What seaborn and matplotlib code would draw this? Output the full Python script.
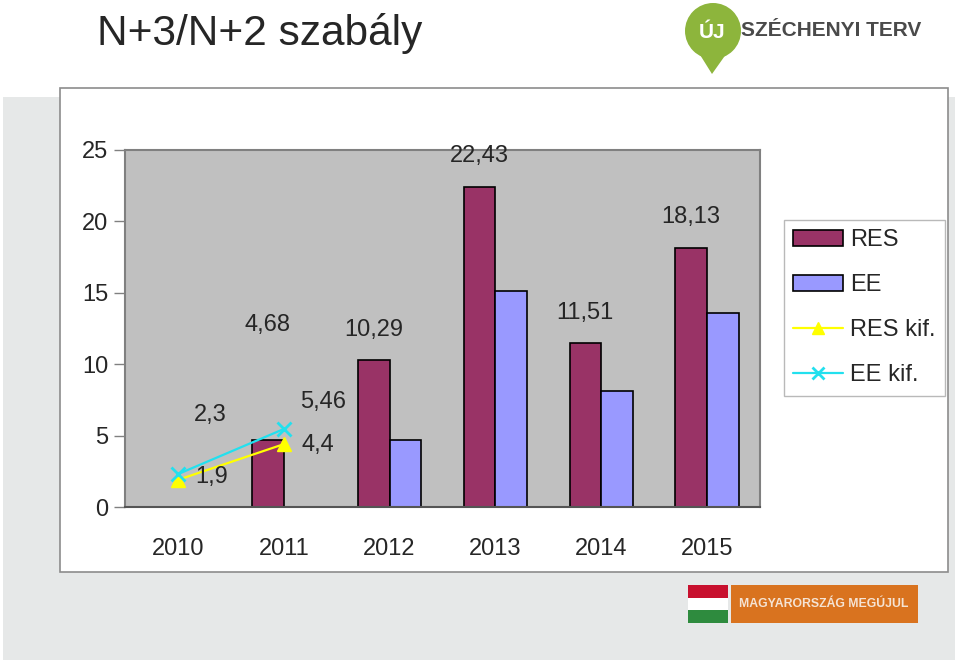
import matplotlib
matplotlib.use("Agg")
import matplotlib.pyplot as plt
import matplotlib.patches as mpatches
from matplotlib.lines import Line2D
import seaborn as sns
import pandas as pd
import numpy as np

years = ["2010", "2011", "2012", "2013", "2014", "2015"]
res_values = [np.nan, 4.68, 10.29, 22.43, 11.51, 18.13]
ee_values = [np.nan, np.nan, 4.7, 15.1, 8.1, 13.6]
kif_years = ["2010", "2011"]
res_kif = [1.9, 4.4]
ee_kif = [2.3, 5.46]

res_labels = ["", "4,68", "10,29", "22,43", "11,51", "18,13"]
res_label_lift = [0, 115, 30, 31, 30, 31]  # px, as in the original
res_kif_labels = ["1,9", "4,4"]
res_kif_offsets = [(34, 3), (34, -1)]
ee_kif_labels = ["2,3", "5,46"]
ee_kif_offsets = [(32, 59), (39, 27)]

RES_COLOR = "#993366"
EE_COLOR = "#9999FF"
RES_KIF_COLOR = "#FFFF00"
EE_KIF_COLOR = "#22E0EE"
FS = 17

sns.set_theme(style="white")
plt.rcParams["font.family"] = ["Liberation Sans", "DejaVu Sans"]

rows = []
for y, r, e in zip(years, res_values, ee_values):
    if not np.isnan(r):
        rows.append({"year": y, "series": "RES", "value": r})
    if not np.isnan(e):
        rows.append({"year": y, "series": "EE", "value": e})
df = pd.DataFrame(rows)

fig = plt.figure(figsize=(9.6, 6.64), dpi=100)
fig.patch.set_facecolor("white")

# slide background and chart frame
fig.patches.append(mpatches.Rectangle((3 / 960, 4 / 664), 952 / 960, 563 / 664,
                                      transform=fig.transFigure, facecolor="#E6E8E8",
                                      edgecolor="none", zorder=0))
fig.patches.append(mpatches.Rectangle((60 / 960, 1 - 572 / 664), 888 / 960, 484 / 664,
                                      transform=fig.transFigure, facecolor="white",
                                      edgecolor="#8C8C8C", linewidth=1.2, zorder=1))

fig.text(97 / 960, 1 - 33 / 664, "N+3/N+2 szabály", fontsize=30.5, va="center", ha="left")

# top-right logo
fig.patches.append(mpatches.Polygon([(697 / 960, 1 - 50 / 664), (729 / 960, 1 - 50 / 664),
                                     (712 / 960, 1 - 74 / 664)], closed=True,
                                    transform=fig.transFigure, facecolor="#8DB53C",
                                    edgecolor="none", zorder=2))
fig.patches.append(mpatches.Ellipse((713 / 960, 1 - 31 / 664), 56 / 960, 56 / 664,
                                    transform=fig.transFigure, facecolor="#8DB53C",
                                    edgecolor="none", zorder=2))
fig.text(712 / 960, 1 - 32 / 664, "ÚJ", color="white", fontsize=15, fontweight="bold",
         ha="center", va="center", zorder=3)
fig.text(741 / 960, 1 - 31 / 664, "SZÉCHENYI TERV", color="#4A4A4A", fontsize=15,
         fontweight="bold", ha="left", va="center", zorder=3)

# bottom logo
flag = ["#C8102E", "white", "#2E8B3E"]
for i, c in enumerate(flag):
    fig.patches.append(mpatches.Rectangle((688 / 960, 1 - (585 + 12.5 * (i + 1)) / 664),
                                          40 / 960, 12.5 / 664, transform=fig.transFigure,
                                          facecolor=c, edgecolor="none", zorder=2))
fig.patches.append(mpatches.Rectangle((731 / 960, 1 - 623 / 664), 187 / 960, 38 / 664,
                                      transform=fig.transFigure, facecolor="#D9731F",
                                      edgecolor="none", zorder=2))
fig.text(824 / 960, 1 - 604 / 664, "MAGYARORSZÁG MEGÚJUL", color="#F5E3D3", fontsize=8.8,
         fontweight="bold", ha="center", va="center", zorder=3)

ax = fig.add_axes([125 / 960, 1 - 507 / 664, 635 / 960, 357 / 664])
ax.set_zorder(3)
ax.set_facecolor("#C0C0C0")

sns.barplot(data=df, x="year", y="value", hue="series", order=years,
            hue_order=["RES", "EE"], palette={"RES": RES_COLOR, "EE": EE_COLOR},
            saturation=1, width=0.6, edgecolor="black", linewidth=1.2, ax=ax,
            legend=False, zorder=2)

kif_x = [years.index(y) for y in kif_years]
ax.plot(kif_x, res_kif, color=RES_KIF_COLOR, lw=1.6, marker="^", ms=10, zorder=4)
ax.plot(kif_x, ee_kif, color=EE_KIF_COLOR, lw=1.6, marker="x", ms=10, mew=2, zorder=5)

for i, (v, lab, lift) in enumerate(zip(res_values, res_labels, res_label_lift)):
    if lab:
        ax.annotate(lab, (i - 0.15, v), xytext=(0, lift), textcoords="offset pixels",
                    ha="center", va="center", fontsize=FS, zorder=6)
for x, v, lab, off in zip(kif_x, res_kif, res_kif_labels, res_kif_offsets):
    ax.annotate(lab, (x, v), xytext=off, textcoords="offset pixels",
                ha="center", va="center", fontsize=FS, zorder=6)
for x, v, lab, off in zip(kif_x, ee_kif, ee_kif_labels, ee_kif_offsets):
    ax.annotate(lab, (x, v), xytext=off, textcoords="offset pixels",
                ha="center", va="center", fontsize=FS, zorder=6)

ax.set_xlim(-0.5, len(years) - 0.5)
ax.set_ylim(0, 25)
ax.set_yticks([0, 5, 10, 15, 20, 25])
ax.set_xlabel("")
ax.set_ylabel("")
ax.set_xticks(range(len(years)))
ax.set_xticklabels(years)
ax.set_xticks(np.arange(-0.5, len(years), 1), minor=True)
ax.tick_params(axis="x", which="major", length=0, pad=22, labelsize=FS)
ax.tick_params(axis="x", which="minor", length=8, direction="out", color="#808080", width=1)
ax.tick_params(axis="y", length=8, direction="out", color="#808080", width=1,
               labelsize=FS, pad=4)
ax.tick_params(left=True)
for side in ["top", "right", "left"]:
    ax.spines[side].set_color("#808080")
    ax.spines[side].set_linewidth(1.5)
ax.spines["bottom"].set_color("#555555")
ax.spines["bottom"].set_linewidth(1.5)

handles = [
    mpatches.Patch(facecolor=RES_COLOR, edgecolor="black", linewidth=1.2, label="RES"),
    mpatches.Patch(facecolor=EE_COLOR, edgecolor="black", linewidth=1.2, label="EE"),
    Line2D([], [], color=RES_KIF_COLOR, lw=1.6, marker="^", ms=9, label="RES kif."),
    Line2D([], [], color=EE_KIF_COLOR, lw=1.6, marker="x", ms=9, mew=2, label="EE kif."),
]
leg = fig.legend(handles=handles, loc="upper left",
                 bbox_to_anchor=(784 / 960, 1 - 220 / 664), fontsize=FS,
                 frameon=True, fancybox=False, edgecolor="#A8A8A8",
                 handlelength=2.1, handleheight=0.7, labelspacing=0.97,
                 borderpad=0.4, handletextpad=0.3, borderaxespad=0)
leg.get_frame().set_linewidth(1)
leg.set_zorder(4)

fig.savefig("out.png", dpi=100)
